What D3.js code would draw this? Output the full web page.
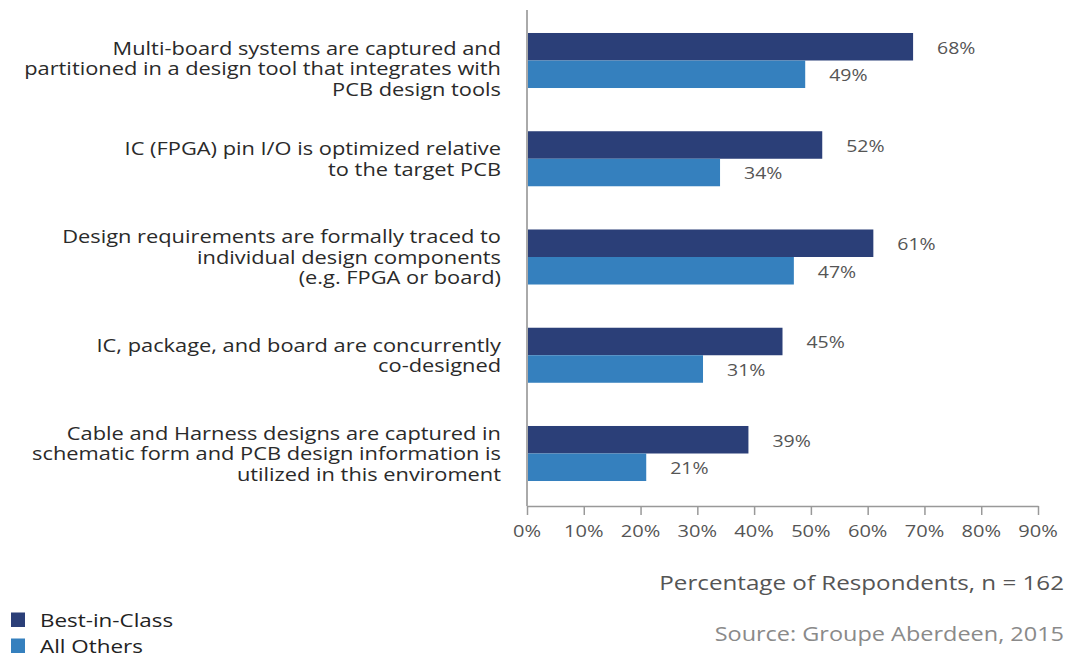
<!DOCTYPE html>
<html><head><meta charset="utf-8">
<script src="https://cdn.jsdelivr.net/npm/d3@7"></script>
<style>body{margin:0;background:#fff}svg{display:block}text{font-family:"Open Sans",sans-serif}</style>
</head><body><svg id="c" width="1080" height="655"></svg>
<script>
const categories = [
  ["Multi-board systems are captured and","partitioned in a design tool that integrates with","PCB design tools"],
  ["IC (FPGA) pin I/O is optimized relative","to the target PCB"],
  ["Design requirements are formally traced to","individual design components","(e.g. FPGA or board)"],
  ["IC, package, and board are concurrently","co-designed"],
  ["Cable and Harness designs are captured in","schematic form and PCB design information is","utilized in this enviroment"]
];
const seriesNames = ["Best-in-Class","All Others"];
const bestInClass = [68,52,61,45,39];
const allOthers = [49,34,47,31,21];
const tickValues = [0,10,20,30,40,50,60,70,80,90];
const colors = ["#2b3f78","#3580be"];

const SX = 1.18; // horizontal stretch of reference typography
const svg = d3.select("#c");
const x = d3.scaleLinear().domain([0,90]).range([527,1038]);
const y = d3.scaleBand().domain(d3.range(categories.length)).range([10,504]).paddingInner(0.44).paddingOuter(0.234);
const sub = d3.scaleBand().domain([0,1]).range([0,y.bandwidth()]);
const labelShift = [8,0,0,0,0];

function stext(parent, px, py, str, opts){
  const g = parent.append("g").attr("transform",`translate(${px},${py}) scale(${SX},1)`);
  return g.append("text").attr("x",0).attr("y",0)
    .attr("text-anchor",opts.anchor||"start").attr("dy",opts.dy||"0.36em")
    .attr("font-size",opts.size).attr("fill",opts.fill).text(str);
}

const series = [bestInClass, allOthers];
series.forEach((vals,si)=>{
  svg.append("g").selectAll("rect").data(vals).join("rect")
    .attr("x",x(0)).attr("y",(d,i)=>y(i)+sub(si))
    .attr("width",d=>x(d)-x(0)).attr("height",sub.bandwidth())
    .attr("fill",colors[si]);
  const lg = svg.append("g");
  vals.forEach((d,i)=>{
    stext(lg, x(d)+24, y(i)+sub(si)+sub.bandwidth()/2+1, d+"%", {size:16.5, fill:"#555"});
  });
});

// axes
const xAxis = svg.append("g").attr("transform","translate(0,506)")
  .call(d3.axisBottom(x).tickValues(tickValues).tickFormat("").tickSize(9).tickSizeOuter(0));
xAxis.select(".domain").attr("stroke","#999").attr("stroke-width",1.5);
xAxis.selectAll(".tick line").attr("stroke","#999").attr("stroke-width",1.5);
const tg = svg.append("g");
tickValues.forEach(v=>stext(tg, x(v), 531, v+"%", {size:17, fill:"#555", anchor:"middle"}));
svg.append("line").attr("x1",x(0)).attr("x2",x(0)).attr("y1",10).attr("y2",506)
  .attr("stroke","#aaa").attr("stroke-width",2);

// category labels
const cg = svg.append("g");
categories.forEach((lines,i)=>{
  const cy = y(i)+y.bandwidth()/2 + labelShift[i];
  const lh = 20.5;
  lines.forEach((ln,j)=>{
    stext(cg, 501, cy + (j-(lines.length-1)/2)*lh, ln, {size:18.5, fill:"#2a2a2a", anchor:"end"});
  });
});

// footer texts
stext(svg, 1064, 583, "Percentage of Respondents, n = 162", {size:20.5, fill:"#555", anchor:"end"});
stext(svg, 1064, 634, "Source: Groupe Aberdeen, 2015", {size:19.9, fill:"#8a8a8a", anchor:"end"});

// legend
seriesNames.forEach((n,i)=>{
  const ly = 620 + i*26;
  svg.append("rect").attr("x",11).attr("y",ly-7.5).attr("width",14).attr("height",14.5).attr("fill",colors[i]);
  stext(svg, 40, ly, n, {size:19, fill:"#222"});
});
</script></body></html>
